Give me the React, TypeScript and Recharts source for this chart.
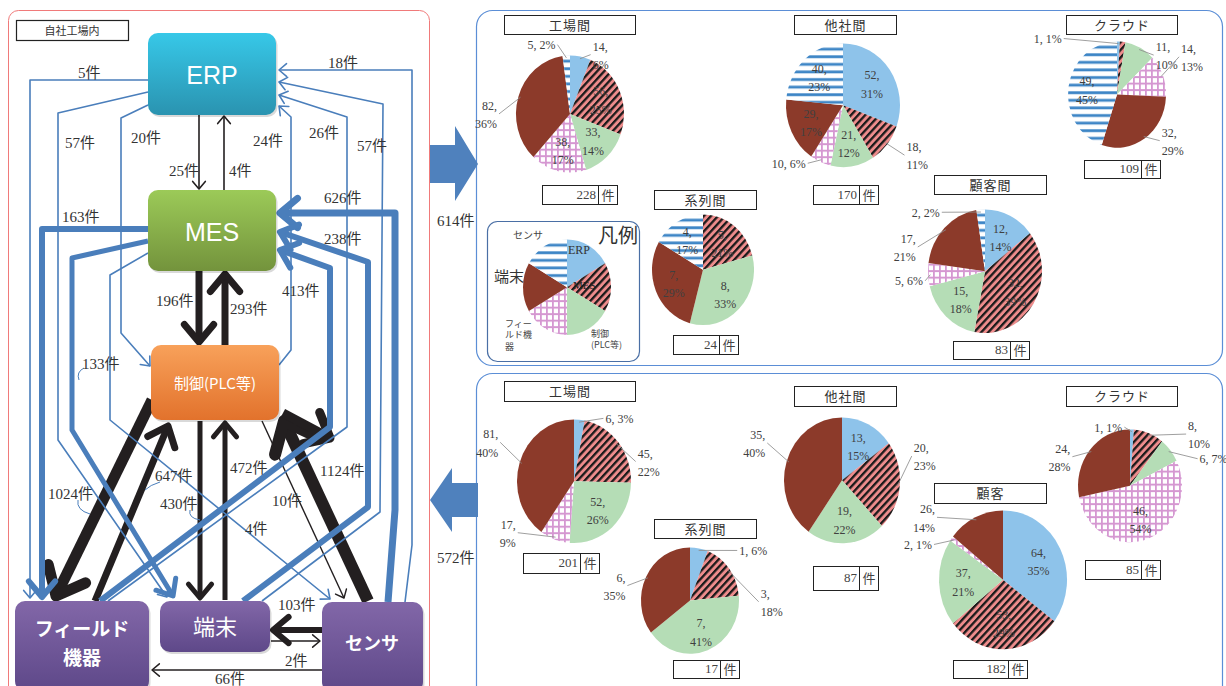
import React from 'react';
import { PieChart, Pie, Cell } from 'recharts';

const RAD = Math.PI / 180;
const K = 1.085; // 元図は縦に少し伸びている
const SERIF = "'Liberation Serif', 'DejaVu Serif', 'Noto Sans CJK JP', serif";
const JP = "'Noto Sans CJK JP', 'Noto Sans', sans-serif";
const BLUE = '#4A7EBB';
const BLACK = '#231F20';

const categories = ['ERP', 'MES', '制御(PLC等)', 'フィールド機器', '端末', 'センサ'];
const fills = ['#8EC3EA', 'url(#pMes)', '#B5DDB6', 'url(#pField)', '#8C3A2A', 'url(#pSensor)'];

// 上段（送信）
const upFactory = [14, 56, 33, 38, 82, 5];
const upOther = [52, 18, 21, 10, 29, 40];
const upCloud = [1, 2, 11, 14, 32, 49];
const upGroup = [0, 5, 8, 0, 7, 4];
const upCustomer = [12, 32, 15, 5, 17, 2];
const legendValues = [1, 1, 1, 1, 1, 1];
// 下段（受信）
const downFactory = [6, 45, 52, 17, 81, 0];
const downOther = [13, 20, 19, 0, 35, 0];
const downCloud = [1, 8, 6, 46, 24, 0];
const downGroup = [1, 3, 7, 0, 6, 0];
const downCustomer = [64, 53, 37, 2, 26, 0];

type PieCfg = {
  title: string;
  values: number[];
  cx: number;
  cy: number;
  r: number;
  box: number[]; // title box x,y,w,h
  cnt: number[]; // count box x,y,w,h
  flags: string; // i=内側 o=外側(2行) O=外側(1行) l=外側(1行・左) -=なし
  adj?: Record<number, number[]>; // ラベルの微調整 dx,dy
};

const pies: PieCfg[] = [
  { title: '工場間', values: upFactory, cx: 570, cy: 114, r: 54, box: [504, 15, 132, 20], cnt: [542, 185, 56, 20], flags: 'oiiioO', adj: { 4: [0, 18], 5: [0, -9] } },
  { title: '他社間', values: upOther, cx: 843, cy: 105, r: 57, box: [794, 15, 103, 20], cnt: [813, 185, 46, 20], flags: 'ioiOii', adj: { 1: [0, 10] } },
  { title: 'クラウド', values: upCloud, cx: 1117, cy: 95, r: 49, box: [1066, 15, 112, 20], cnt: [1084, 160, 57, 19], flags: 'l-oooi', adj: { 0: [-47, 0], 2: [0, 10], 3: [-3, -18] } },
  { title: '系列間', values: upGroup, cx: 703, cy: 270, r: 51, box: [654, 190, 103, 20], cnt: [673, 335, 46, 20], flags: '-ii-ii' },
  { title: '顧客間', values: upCustomer, cx: 985, cy: 271, r: 57, box: [934, 175, 113, 20], cnt: [953, 341, 57, 19], flags: 'iiiOoO', adj: { 3: [17, 6], 4: [-10, 20], 5: [-30, 4] } },
  { title: '工場間', values: downFactory, cx: 574, cy: 481, r: 57, box: [504, 381, 132, 21], cnt: [523, 553, 57, 21], flags: 'Ooioo-', adj: { 0: [15, 0], 1: [0, 20], 3: [-25, -8], 4: [0, -20] } },
  { title: '他社間', values: downOther, cx: 842, cy: 480, r: 58, box: [794, 386, 103, 21], cnt: [813, 566, 46, 25], flags: 'ioi-o-', adj: { 1: [-8, -30], 4: [0, -18] } },
  { title: 'クラウド', values: downCloud, cx: 1130, cy: 486, r: 52, box: [1066, 386, 112, 21], cnt: [1085, 560, 56, 20], flags: 'loOio-', adj: { 1: [25, 3], 2: [10, 10], 4: [0, 8] } },
  { title: '系列間', values: downGroup, cx: 690, cy: 601, r: 49, box: [654, 519, 103, 20], cnt: [673, 660, 47, 19], flags: 'Ooi-o-', adj: { 0: [28, 5], 1: [12, 35], 4: [0, 10] } },
  { title: '顧客', values: downCustomer, cx: 1003, cy: 580, r: 64, box: [934, 483, 113, 21], cnt: [953, 660, 55, 19], flags: 'iiiOo-', adj: { 3: [0, 6], 4: [-25, 0] } },
];

// Excel と同じく合計100%になるよう最大剰余法で丸める
const roundPercents = (vals: number[]) => {
  const total = vals.reduce((a, b) => a + b, 0);
  const raw = vals.map((v) => (v / total) * 100);
  const out = raw.map((x) => Math.floor(x));
  let rest = 100 - out.reduce((a, b) => a + b, 0);
  const order = raw.map((x, i) => [x - Math.floor(x), i]).sort((a, b) => b[0] - a[0]);
  for (let k = 0; k < order.length && rest > 0; k++, rest--) out[order[k][1]] += 1;
  return out;
};

const makeLabel = (cfg: PieCfg, pcts: number[]) => (p: any) => {
  const f = cfg.flags[p.index];
  if (!p.value || f === '-' || !f) return null;
  const [dx, dy] = (cfg.adj && cfg.adj[p.index]) || [0, 0];
  const a = -p.midAngle * RAD;
  const cos = Math.cos(a);
  const sin = Math.sin(a);
  const pct = pcts[p.index];
  const one = f === 'O' || f === 'l';
  const st = { fontFamily: SERIF, fontSize: 12, fill: '#404040' };
  const body = (x: number) =>
    one ? (
      <tspan x={x} dy="0.35em">{`${p.value}, ${pct}%`}</tspan>
    ) : (
      <>
        <tspan x={x} dy="-0.3em">{`${p.value},`}</tspan>
        <tspan x={x} dy="1.4em">{`${pct}%`}</tspan>
      </>
    );
  if (f === 'i') {
    const x = p.cx + p.outerRadius * 0.62 * cos;
    const y = p.cy + p.outerRadius * 0.62 * sin;
    return (
      <text x={x} y={y} textAnchor="middle" style={st}>
        {body(x)}
      </text>
    );
  }
  const R = p.outerRadius;
  const side = f === 'l' ? -1 : cos >= 0 ? 1 : -1;
  const x0 = p.cx + R * 0.96 * cos;
  const y0 = p.cy + R * 0.96 * sin;
  const tx = p.cx + (R + 12) * cos + side * 10 + dx;
  const ty = p.cy + (R + 14) * sin * 0.82 + dy / K;
  const x1 = tx - side * 2;
  return (
    <g>
      <polyline points={`${x0},${y0} ${x1},${ty}`} stroke="#8c8c8c" strokeWidth={0.8} fill="none" />
      <text x={tx} y={ty} textAnchor={side > 0 ? 'start' : 'end'} style={st}>
        {body(tx)}
      </text>
    </g>
  );
};

function PieBlock({ cfg }: { cfg: PieCfg }) {
  const data = cfg.values.map((v, i) => ({ name: categories[i], value: v }));
  const pcts = roundPercents(cfg.values);
  const W = cfg.r * 2 + 170;
  const H = cfg.r * 2 + 80;
  return (
    <div
      style={{
        position: 'absolute',
        left: cfg.cx - W / 2,
        top: cfg.cy - (K * H) / 2,
        width: W,
        height: H,
        transform: `scaleY(${K})`,
        transformOrigin: 'top left',
      }}
    >
      <PieChart width={W} height={H} margin={{ top: 0, right: 0, bottom: 0, left: 0 }}>
        <Pie
          data={data}
          dataKey="value"
          cx={W / 2}
          cy={H / 2}
          outerRadius={cfg.r}
          startAngle={90}
          endAngle={-270}
          stroke="none"
          isAnimationActive={false}
          label={cfg.flags ? makeLabel(cfg, pcts) : false}
          labelLine={false}
        >
          {data.map((d, i) => (
            <Cell key={d.name} fill={fills[i]} />
          ))}
        </Pie>
      </PieChart>
    </div>
  );
}

function TitleBox({ b, text }: { b: number[]; text: string }) {
  return (
    <div
      style={{
        position: 'absolute', left: b[0], top: b[1], width: b[2], height: b[3], boxSizing: 'border-box',
        border: '1.5px solid #222', background: '#fff', fontFamily: JP, fontSize: 13, color: '#333',
        textAlign: 'center', lineHeight: `${b[3] - 3}px`, letterSpacing: 1,
      }}
    >
      {text}
    </div>
  );
}

function CountBox({ c, n }: { c: number[]; n: number }) {
  const base = { position: 'absolute' as const, top: c[1], height: c[3], boxSizing: 'border-box' as const, border: '1.5px solid #222', background: '#fff', lineHeight: `${c[3] - 3}px`, color: '#444' };
  return (
    <>
      <div style={{ ...base, left: c[0], width: c[2] + 1, textAlign: 'right', paddingRight: 2, fontFamily: SERIF, fontSize: 13 }}>{n}</div>
      <div style={{ ...base, left: c[0] + c[2], width: 20, textAlign: 'center', fontFamily: JP, fontSize: 13 }}>件</div>
    </>
  );
}

type Flow = { pts: number[][]; w: number; c: string };

const flows: Flow[] = [
  // 黒（制御系）
  { pts: [[199, 115], [199, 189]], w: 1.6, c: BLACK },
  { pts: [[224, 190], [224, 116]], w: 1.6, c: BLACK },
  { pts: [[199, 271], [199, 342]], w: 7, c: BLACK },
  { pts: [[225, 345], [225, 274]], w: 7, c: BLACK },
  { pts: [[200, 421], [200, 598]], w: 5, c: BLACK },
  { pts: [[225, 600], [225, 423]], w: 5, c: BLACK },
  { pts: [[152, 400], [56, 596]], w: 11, c: BLACK },
  { pts: [[95, 601], [168, 426]], w: 7, c: BLACK },
  { pts: [[368, 601], [284, 421]], w: 12, c: BLACK },
  { pts: [[283, 413], [330, 438]], w: 9, c: BLACK },
  { pts: [[262, 421], [344, 598]], w: 1.4, c: BLACK },
  { pts: [[322, 630], [273, 630]], w: 6, c: BLACK },
  { pts: [[271, 641], [320, 641]], w: 1.5, c: BLACK },
  { pts: [[322, 670], [152, 670]], w: 1.5, c: BLACK },
  // 青（情報系）
  { pts: [[148, 80], [30, 80], [30, 598]], w: 1.6, c: BLUE },
  { pts: [[148, 92], [58, 113], [58, 440], [167, 597]], w: 1.6, c: BLUE },
  { pts: [[148, 105], [121, 118], [121, 333], [150, 366]], w: 1.6, c: BLUE },
  { pts: [[148, 253], [110, 275], [110, 420], [330, 599]], w: 1.6, c: BLUE },
  { pts: [[279, 365], [291, 350], [291, 117], [279, 106]], w: 1.6, c: BLUE },
  { pts: [[108, 601], [347, 427], [347, 117], [279, 95]], w: 1.6, c: BLUE },
  { pts: [[262, 601], [380, 512], [383, 104], [279, 82]], w: 1.6, c: BLUE },
  { pts: [[405, 602], [412, 545], [412, 70], [279, 70]], w: 1.6, c: BLUE },
  { pts: [[148, 229], [42, 229], [42, 597]], w: 6, c: BLUE },
  { pts: [[148, 241], [72, 258], [72, 430], [173, 596]], w: 5, c: BLUE },
  { pts: [[388, 602], [395, 510], [395, 213], [280, 213]], w: 7, c: BLUE },
  { pts: [[243, 601], [368, 507], [368, 262], [280, 232]], w: 6, c: BLUE },
  { pts: [[100, 601], [330, 427], [330, 268], [280, 250]], w: 6, c: BLUE },
];

const flowLabels: [string, number, number][] = [
  ['5件', 78, 78], ['18件', 328, 68], ['57件', 65, 148], ['20件', 131, 143], ['24件', 253, 146],
  ['26件', 309, 138], ['57件', 357, 151], ['25件', 169, 176], ['4件', 229, 176], ['163件', 62, 222],
  ['626件', 324, 203], ['238件', 324, 244], ['413件', 282, 296], ['196件', 156, 306], ['293件', 230, 314],
  ['133件', 82, 369], ['1024件', 48, 499], ['647件', 155, 481], ['430件', 160, 509], ['472件', 230, 473],
  ['1124件', 320, 476], ['10件', 272, 506], ['4件', 245, 534], ['103件', 278, 610], ['2件', 285, 666], ['66件', 215, 684],
];

function FlowLine({ f }: { f: Flow }) {
  const n = f.pts.length;
  const [tx, ty] = f.pts[n - 1];
  const [px, py] = f.pts[n - 2];
  const len = Math.hypot(tx - px, ty - py);
  const dx = (tx - px) / len;
  const dy = (ty - py) / len;
  const L = 6 + f.w * 2.4;
  const c = Math.cos(40 * RAD);
  const s = Math.sin(40 * RAD);
  const a1 = [tx - L * (c * dx - s * dy), ty - L * (c * dy + s * dx)];
  const a2 = [tx - L * (c * dx + s * dy), ty - L * (c * dy - s * dx)];
  return (
    <g stroke={f.c} strokeWidth={f.w} fill="none" strokeLinejoin="round" strokeLinecap="round">
      <polyline points={f.pts.map((p) => p.join(',')).join(' ')} strokeLinecap="butt" />
      <polyline points={`${a1[0]},${a1[1]} ${tx},${ty} ${a2[0]},${a2[1]}`} />
    </g>
  );
}

function NodeBox({ x, y, w, h, g }: { x: number; y: number; w: number; h: number; g: string }) {
  return (
    <g>
      <rect x={x + 1.5} y={y + 2} width={w} height={h} rx={10} fill="#000" opacity={0.15} />
      <rect x={x} y={y} width={w} height={h} rx={10} fill={`url(#${g})`} />
    </g>
  );
}

function Diagram() {
  const grads: [string, string, string][] = [
    ['gErp', '#37C8E8', '#2A93B0'],
    ['gMes', '#9CCA58', '#73933C'],
    ['gPlc', '#F8A15A', '#E2722C'],
    ['gPur', '#8267A8', '#5E4889'],
  ];
  return (
    <svg width={1226} height={686} style={{ position: 'absolute', left: 0, top: 0 }}>
      <defs>
        {grads.map(([id, a, b]) => (
          <linearGradient key={id} id={id} x1="0" y1="0" x2="0" y2="1">
            <stop offset="0" stopColor={a} />
            <stop offset="1" stopColor={b} />
          </linearGradient>
        ))}
      </defs>
      {/* 枠 */}
      <rect x={8.5} y={10.5} width={421} height={690} rx={10} fill="none" stroke="#F07A7A" strokeWidth={1} />
      <rect x={16.5} y={20.5} width={112} height={20} fill="#fff" stroke="#222" strokeWidth={1.2} />
      <text x={72} y={35} textAnchor="middle" style={{ fontFamily: JP, fontSize: 11, fill: '#333' }}>自社工場内</text>
      <rect x={476.5} y={10.5} width={746} height={355} rx={16} fill="none" stroke="#5B8ED6" strokeWidth={1.2} />
      <rect x={476.5} y={373.5} width={746} height={330} rx={16} fill="none" stroke="#5B8ED6" strokeWidth={1.2} />
      <rect x={487.5} y={221.5} width={152} height={140} rx={10} fill="none" stroke="#4A6FA5" strokeWidth={1.2} />

      {/* 大矢印 */}
      <polygon points="430,145 455,145 455,126 478,164 455,201 455,183 430,183" fill="#4F81BD" />
      <polygon points="478,483 452,483 452,468 430,500 452,532 452,517 478,517" fill="#4F81BD" />
      <text x={437} y={226} style={{ fontFamily: SERIF, fontSize: 15, fill: '#333' }}>614件</text>
      <text x={437} y={563} style={{ fontFamily: SERIF, fontSize: 15, fill: '#333' }}>572件</text>

      {flows.map((f, i) => (
        <FlowLine key={i} f={f} />
      ))}

      {/* 引出線 */}
      <g stroke={BLUE} strokeWidth={1} fill="none">
        <path d="M84,368 Q76,372 79,380" />
        <path d="M78,500 Q76,510 90,514" />
        <path d="M160,482 Q150,485 145,490" />
        <path d="M190,510 Q188,518 200,520" />
      </g>

      {flowLabels.map(([t, x, y], i) => (
        <text key={i} x={x} y={y} style={{ fontFamily: SERIF, fontSize: 15, fill: '#333' }}>{t}</text>
      ))}

      <NodeBox x={148} y={33} w={128} h={82} g="gErp" />
      <text x={212} y={84} textAnchor="middle" style={{ fontFamily: "'Liberation Sans', Arial, sans-serif", fontSize: 25, fill: '#fff' }}>ERP</text>
      <NodeBox x={148} y={190} w={128} h={81} g="gMes" />
      <text x={212} y={241} textAnchor="middle" style={{ fontFamily: "'Liberation Sans', Arial, sans-serif", fontSize: 25, fill: '#fff' }}>MES</text>
      <NodeBox x={151} y={345} w={128} h={75} g="gPlc" />
      <text x={215} y={389} textAnchor="middle" style={{ fontFamily: JP, fontSize: 15, fill: '#fff' }}>制御(PLC等)</text>
      <NodeBox x={15} y={601} w={134} h={90} g="gPur" />
      <text x={82} y={636} textAnchor="middle" style={{ fontFamily: JP, fontSize: 19, fontWeight: 700, fill: '#fff' }}>フィールド</text>
      <text x={82} y={665} textAnchor="middle" style={{ fontFamily: JP, fontSize: 19, fontWeight: 700, fill: '#fff' }}>機器</text>
      <NodeBox x={160} y={601} w={110} h={51} g="gPur" />
      <text x={215} y={635} textAnchor="middle" style={{ fontFamily: JP, fontSize: 22, fill: '#fff' }}>端末</text>
      <NodeBox x={322} y={602} w={101} h={90} g="gPur" />
      <text x={372} y={650} textAnchor="middle" style={{ fontFamily: JP, fontSize: 18, fontWeight: 700, fill: '#fff' }}>センサ</text>
    </svg>
  );
}

function Patterns() {
  return (
    <svg width={0} height={0} style={{ position: 'absolute' }}>
      <defs>
        <pattern id="pMes" width="5" height="5" patternUnits="userSpaceOnUse" patternTransform="rotate(45)">
          <rect width="5" height="5" fill="#EE8C8C" />
          <rect width="2.2" height="5" fill="#1a1a1a" />
        </pattern>
        <pattern id="pField" width="6" height="6" patternUnits="userSpaceOnUse">
          <rect width="6" height="6" fill="#fff" />
          <rect width="6" height="1.8" fill="#D597D1" />
          <rect width="1.8" height="6" fill="#D597D1" />
        </pattern>
        <pattern id="pSensor" width="7" height="7" patternUnits="userSpaceOnUse">
          <rect width="7" height="7" fill="#fff" />
          <rect y="2" width="7" height="2.6" fill="#3E86C6" />
        </pattern>
      </defs>
    </svg>
  );
}

function LegendText() {
  const t = (s: string, x: number, y: number, size: number, extra: any = {}) => (
    <div style={{ position: 'absolute', left: x, top: y, fontSize: size, color: '#444', whiteSpace: 'pre', lineHeight: 1.25, ...extra }}>{s}</div>
  );
  return (
    <>
      {t('凡例', 598, 222, 20, { fontFamily: JP, color: '#333' })}
      {t('センサ', 513, 229, 10, { fontFamily: JP })}
      {t('ERP', 568, 243, 12, { fontFamily: SERIF, color: '#333' })}
      {t('端末', 494, 267, 15, { fontFamily: JP, color: '#333' })}
      {t('MES', 573, 279, 11, { fontFamily: SERIF, color: '#222' })}
      {t('フィー\nルド機\n器', 505, 318, 9, { fontFamily: JP })}
      {t('制御\n(PLC等)', 591, 328, 9, { fontFamily: JP })}
    </>
  );
}

const legendCfg: PieCfg = { title: '', values: legendValues, cx: 567, cy: 287, r: 44, box: [], cnt: [], flags: '' };

export default function App() {
  return (
    <div style={{ position: 'absolute', left: 0, top: 0, width: 1226, height: 686, overflow: 'hidden', background: '#fff' }}>
      <Patterns />
      <Diagram />
      {pies.map((p, i) => (
        <PieBlock key={i} cfg={p} />
      ))}
      <PieBlock cfg={legendCfg} />
      <LegendText />
      {pies.map((p, i) => (
        <React.Fragment key={i}>
          <TitleBox b={p.box} text={p.title} />
          <CountBox c={p.cnt} n={p.values.reduce((a, b) => a + b, 0)} />
        </React.Fragment>
      ))}
    </div>
  );
}
